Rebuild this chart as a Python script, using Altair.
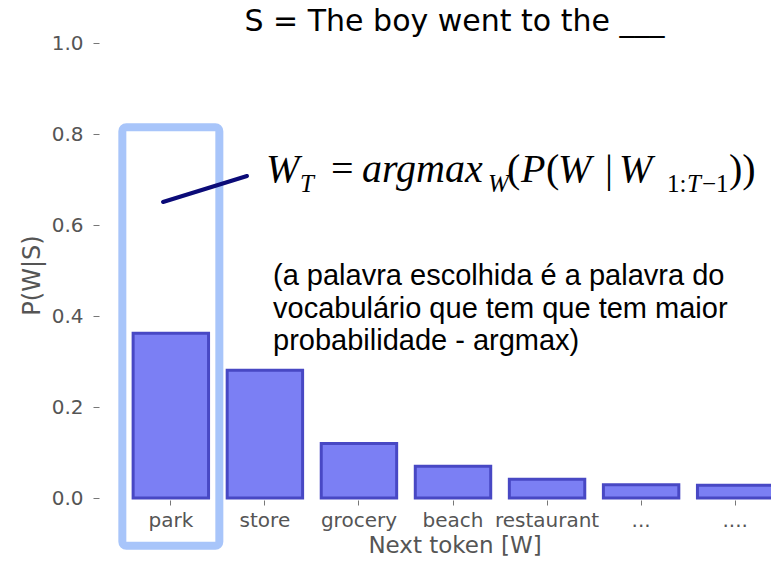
import altair as alt
import pandas as pd

# ---- data ----
tokens = ["park", "store", "grocery", "beach", "restaurant", "...", "...."]
probs = [0.362, 0.281, 0.120, 0.070, 0.041, 0.029, 0.028]
y_ticks = [0.0, 0.2, 0.4, 0.6, 0.8, 1.0]
chosen = ["park"]
highlight_top = [0.815]
highlight_bottom = [-0.105]

title_text = "S = The boy went to the ___"
note_lines = [
    "(a palavra escolhida é a palavra do",
    "vocabulário que tem que tem maior",
    "probabilidade - argmax)",
]

df = pd.DataFrame({"token": tokens, "p": probs})
hl = pd.DataFrame({"token": chosen, "top": highlight_top, "bottom": highlight_bottom})

GREY = "#555555"
SANS = "DejaVu Sans"
SERIF = "Liberation Serif"

xscale = alt.Scale(domain=tokens, range=[0, 660], paddingInner=0.198, paddingOuter=0.1076)
yscale = alt.Scale(domain=[0, 1], nice=False, zero=False)

bars = alt.Chart(df).mark_bar(
    fill="#7b7ff4", stroke="#4848c4", strokeWidth=3
).encode(
    x=alt.X("token:N", scale=xscale, sort=tokens,
            axis=alt.Axis(title="Next token [W]", labelAngle=0, labelAlign="center",
                          domain=False, tickSize=5, tickColor="#777777", offset=2,
                          labelPadding=21, labelBaseline="alphabetic",
                          labelFont=SANS, labelFontSize=20, labelColor=GREY,
                          titleFont=SANS, titleFontSize=23, titleColor=GREY,
                          titleFontWeight="normal", titleBaseline="alphabetic",
                          titleX=331.5, titleY=52, titleAnchor="start",
                          titleAlign="center")),
    y=alt.Y("p:Q", scale=yscale,
            axis=alt.Axis(title="P(W|S)", values=y_ticks, format=".1f", grid=False,
                          domain=False, tickSize=6, tickColor="#777777", offset=24,
                          labelPadding=10, labelFont=SANS, labelFontSize=20,
                          labelColor=GREY, titleFont=SANS, titleFontSize=24,
                          titleColor=GREY, titleFontWeight="normal",
                          titleAngle=270, titleBaseline="alphabetic",
                          titleAlign="center", titleX=-60, titleY=232)),
)

box = alt.Chart(hl).mark_bar(
    filled=False, stroke="#a8c5fa", strokeWidth=8, size=97, cornerRadius=4
).encode(
    x=alt.X("token:N", scale=xscale, sort=tokens),
    y=alt.Y("top:Q", scale=yscale),
    y2="bottom:Q",
)

pointer = alt.Chart(pd.DataFrame({"a": [0]})).mark_rule(
    color="#0b0b78", strokeWidth=4, strokeCap="round"
).encode(
    x=alt.value(40), y=alt.value(159), x2=alt.value(124), y2=alt.value(133)
)


def txt(s, x, y, size, font, style="normal", color="black", align="left"):
    return alt.Chart(pd.DataFrame({"t": [s]})).mark_text(
        font=font, fontSize=size, fontStyle=style, color=color,
        align=align, baseline="alphabetic"
    ).encode(x=alt.value(x), y=alt.value(y), text="t:N")


layers = [box, bars, pointer]
layers.append(txt(title_text, 331.5, -12, 30, SANS, align="center"))

# formula  W_T = argmax_W(P(W | W_{1:T-1}))
MB, SB = 139, 149   # baselines (main, subscript)
MS, SS = 40, 25     # font sizes
formula = [
    ("W", 143, MB, MS, "italic"),
    ("T", 177, SB, SS, "italic"),
    ("=", 208, MB, MS, "normal"),
    ("argmax", 239, MB, MS, "italic"),
    ("W", 365, SB, SS, "italic"),
    ("(", 384, MB, MS, "normal"),
    ("P", 398, MB, MS, "italic"),
    ("(", 423, MB, MS, "normal"),
    ("W", 435, MB, MS, "italic"),
    ("|", 482, MB, MS, "normal"),
    ("W", 496, MB, MS, "italic"),
    ("1:", 544, SB, SS, "normal"),
    ("T", 564, SB, SS, "italic"),
    ("\u22121", 579, SB, SS, "normal"),
    ("))", 606, MB, MS, "normal"),
]
for s, x, y, size, style in formula:
    layers.append(txt(s, x, y, size, SERIF, style))

for i, line in enumerate(note_lines):
    layers.append(txt(line, 150, 242 + 32.5 * i, 29, "Liberation Sans"))

chart = alt.layer(*layers).properties(
    width=648, height=455,
    autosize=alt.AutoSizeParams(type="none"),
    padding={"left": 115, "top": 35, "right": 0, "bottom": 60},
).configure_view(strokeWidth=0)

chart.save("out.html", embed_options={"renderer": "svg", "actions": False})
